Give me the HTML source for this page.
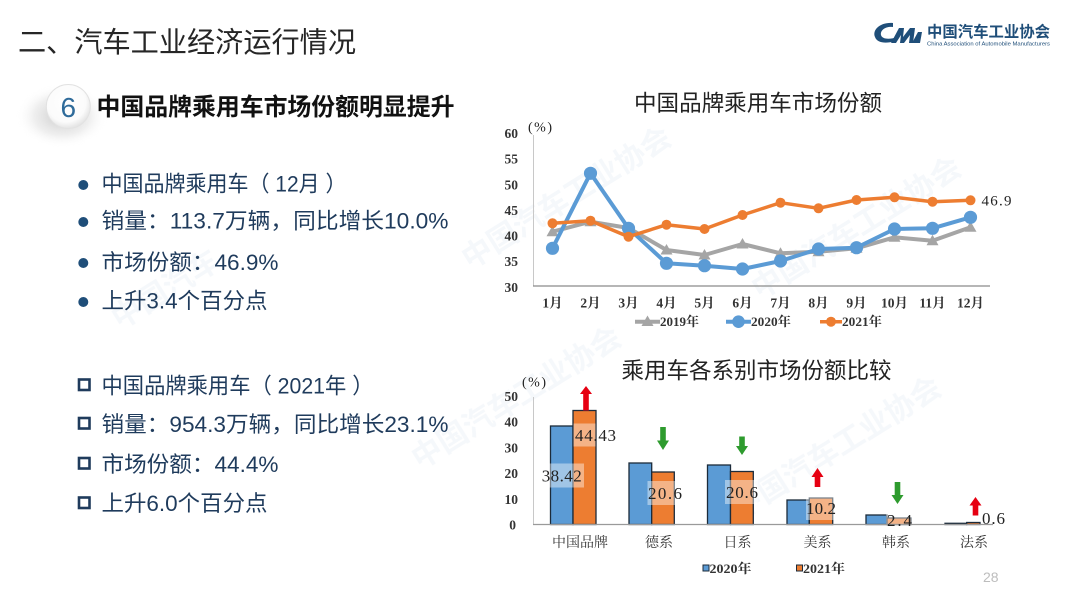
<!DOCTYPE html>
<html>
<head>
<meta charset="utf-8">
<style>
  html,body{margin:0;padding:0;background:#fff;}
  body{width:1080px;height:604px;overflow:hidden;}
  svg{display:block;}
  .cjk{font-family:"Liberation Sans","Noto Sans CJK SC",sans-serif;}
  .ser{font-family:"Liberation Serif","Noto Serif CJK SC",serif;}
</style>
</head>
<body>
<svg width="1080" height="604" viewBox="0 0 1080 604" xmlns="http://www.w3.org/2000/svg">
  <defs>
    <radialGradient id="shadowG" cx="50%" cy="50%" r="50%">
      <stop offset="0%" stop-color="#9a9a9a" stop-opacity="0.55"/>
      <stop offset="60%" stop-color="#bdbdbd" stop-opacity="0.25"/>
      <stop offset="100%" stop-color="#ffffff" stop-opacity="0"/>
    </radialGradient>
    <radialGradient id="badgeG" cx="45%" cy="40%" r="60%">
      <stop offset="0%" stop-color="#ffffff"/>
      <stop offset="75%" stop-color="#fbfbfb"/>
      <stop offset="100%" stop-color="#e4e4e4"/>
    </radialGradient>
    <marker id="mb" viewBox="0 0 14 14" refX="7" refY="7" markerWidth="14" markerHeight="14" markerUnits="userSpaceOnUse">
      <circle cx="7" cy="7" r="6.6" fill="#5b9bd5"/>
    </marker>
    <marker id="mo" viewBox="0 0 12 12" refX="6" refY="6" markerWidth="12" markerHeight="12" markerUnits="userSpaceOnUse">
      <circle cx="6" cy="6" r="5" fill="#ed7d31"/>
    </marker>
    <marker id="mg" viewBox="0 0 13 12" refX="6.5" refY="6.5" markerWidth="13" markerHeight="12" markerUnits="userSpaceOnUse">
      <polygon points="6.5,0.5 12.5,11 0.5,11" fill="#a5a5a5"/>
    </marker>
  </defs>

  <!-- faint watermarks -->
  <g class="cjk" font-size="30" font-weight="bold" fill="#e6edf4" opacity="0.4">
    <text x="470" y="270" transform="rotate(-32 470 270)">中国汽车工业协会</text>
    <text x="760" y="300" transform="rotate(-32 760 300)">中国汽车工业协会</text>
    <text x="740" y="520" transform="rotate(-32 740 520)">中国汽车工业协会</text>
    <text x="420" y="470" transform="rotate(-32 420 470)">中国汽车工业协会</text>
    <text x="120" y="330" transform="rotate(-32 120 330)">中国汽车</text>
  </g>

  <!-- Header -->
  <text x="18" y="52" class="cjk" font-size="28.2" fill="#262626" textLength="338" lengthAdjust="spacingAndGlyphs">二、汽车工业经济运行情况</text>

  <!-- Logo -->
  <g fill="#1f4e79">
    <path d="M893,23 C880,22 872,30 875,37 C877,43 886,44 895,41 L897,37 C889,40 882,39 881,35 C880,30 886,26 893,27 Z"/>
    <path d="M891,43 L899,28 L904,28 L903,37 L910,28 L915,28 L913,43 L909,43 L910,35 L904,43 L900,43 L901,35 L896,43 Z"/>
    <path d="M912,43 L918,32 L922,32 L920,43 Z"/>
  </g>
  <text x="927" y="37" class="cjk" font-size="15.3" font-weight="bold" fill="#1f4e79" textLength="123" lengthAdjust="spacingAndGlyphs">中国汽车工业协会</text>
  <text x="927" y="45.5" font-family="Liberation Sans, sans-serif" font-size="5.2" fill="#1f4e79" textLength="123" lengthAdjust="spacingAndGlyphs">China Association of Automobile Manufacturers</text>

  <!-- Badge -->
  <ellipse cx="62" cy="116" rx="46" ry="32" fill="url(#shadowG)"/>
  <circle cx="68.3" cy="106.5" r="22" fill="url(#badgeG)" stroke="#e2e2e2" stroke-width="1"/>
  <text x="68.3" y="117" text-anchor="middle" font-family="Liberation Sans, sans-serif" font-size="28" fill="#2f6b9a">6</text>

  <text x="96.5" y="115" class="cjk" font-size="24" font-weight="bold" fill="#111" textLength="358" lengthAdjust="spacingAndGlyphs">中国品牌乘用车市场份额明显提升</text>

  <!-- Left bullet list -->
  <g fill="#1f4e79">
    <circle cx="83.3" cy="185" r="5"/>
    <circle cx="83.3" cy="222" r="5"/>
    <circle cx="83.3" cy="263" r="5"/>
    <circle cx="83.3" cy="302" r="5"/>
  </g>
  <g class="cjk" font-size="22" fill="#1f3b5c">
    <text x="101.5" y="191.5" textLength="245" lengthAdjust="spacingAndGlyphs">中国品牌乘用车（ 12月 ）</text>
    <text x="101.5" y="228.5" textLength="347" lengthAdjust="spacingAndGlyphs">销量：113.7万辆，同比增长10.0%</text>
    <text x="101.5" y="270" textLength="177" lengthAdjust="spacingAndGlyphs">市场份额：46.9%</text>
    <text x="101.5" y="308.5" textLength="166" lengthAdjust="spacingAndGlyphs">上升3.4个百分点</text>
  </g>
  <g fill="none" stroke="#1f3b5c" stroke-width="2.6">
    <rect x="79" y="379.5" width="10.5" height="10.5"/>
    <rect x="79" y="418" width="10.5" height="10.5"/>
    <rect x="79" y="458" width="10.5" height="10.5"/>
    <rect x="79" y="497.5" width="10.5" height="10.5"/>
  </g>
  <g class="cjk" font-size="22" fill="#1f3b5c">
    <text x="101.5" y="393.5" textLength="272" lengthAdjust="spacingAndGlyphs">中国品牌乘用车（ 2021年 ）</text>
    <text x="101.5" y="432" textLength="347" lengthAdjust="spacingAndGlyphs">销量：954.3万辆，同比增长23.1%</text>
    <text x="101.5" y="472" textLength="177" lengthAdjust="spacingAndGlyphs">市场份额：44.4%</text>
    <text x="101.5" y="511" textLength="166" lengthAdjust="spacingAndGlyphs">上升6.0个百分点</text>
  </g>

  <!-- ===== Line chart ===== -->
  <text x="634" y="111" class="cjk" font-size="22.5" fill="#222" textLength="248" lengthAdjust="spacingAndGlyphs">中国品牌乘用车市场份额</text>
  <text x="528" y="131.5" font-family="Liberation Serif, serif" font-size="14" fill="#222" textLength="24" lengthAdjust="spacing">(%)</text>
  <g class="ser" font-size="13.5" font-weight="bold" fill="#333" text-anchor="end">
    <text x="518" y="138">60</text>
    <text x="518" y="163.6">55</text>
    <text x="518" y="189.3">50</text>
    <text x="518" y="214.9">45</text>
    <text x="518" y="240.6">40</text>
    <text x="518" y="266.2">35</text>
    <text x="518" y="291.9">30</text>
  </g>
  <line x1="533.5" y1="135" x2="533.5" y2="286" stroke="#c8c8c8" stroke-width="1"/>
  <line x1="533" y1="286" x2="990" y2="286" stroke="#8a8a8a" stroke-width="1.2"/>
  <g class="ser" font-size="13.5" font-weight="bold" fill="#333" text-anchor="middle">
    <text x="552.5" y="307.5">1月</text>
    <text x="590.5" y="307.5">2月</text>
    <text x="628.5" y="307.5">3月</text>
    <text x="666.5" y="307.5">4月</text>
    <text x="704.5" y="307.5">5月</text>
    <text x="742.5" y="307.5">6月</text>
    <text x="780.5" y="307.5">7月</text>
    <text x="818.5" y="307.5">8月</text>
    <text x="856.5" y="307.5">9月</text>
    <text x="894.5" y="307.5">10月</text>
    <text x="932.5" y="307.5">11月</text>
    <text x="970.5" y="307.5">12月</text>
  </g>

  <polyline fill="none" stroke="#a5a5a5" stroke-width="4" stroke-linejoin="round"
    marker-start="url(#mg)" marker-mid="url(#mg)" marker-end="url(#mg)"
    points="552.5,231.7 590.5,221.7 628.5,228 666.5,250 704.5,255 742.5,244 780.5,253.3 818.5,251.7 856.5,248.3 894.5,237.3 932.5,240.7 970.5,227.3"/>
  <polyline fill="none" stroke="#5b9bd5" stroke-width="4" stroke-linejoin="round"
    marker-start="url(#mb)" marker-mid="url(#mb)" marker-end="url(#mb)"
    points="552.5,248.3 590.5,173.3 628.5,228.3 666.5,263.3 704.5,265.7 742.5,269 780.5,261 818.5,249 856.5,247.7 894.5,229 932.5,228.3 970.5,217.3"/>
  <polyline fill="none" stroke="#ed7d31" stroke-width="3.5" stroke-linejoin="round"
    marker-start="url(#mo)" marker-mid="url(#mo)" marker-end="url(#mo)"
    points="552.5,223.3 590.5,220.7 628.5,236.7 666.5,224.7 704.5,229 742.5,215 780.5,202.7 818.5,208.3 856.5,200 894.5,197.3 932.5,201.7 970.5,200.3"/>
  <text x="981.5" y="205.5" class="ser" font-size="15" fill="#222" textLength="30" lengthAdjust="spacing">46.9</text>

  <!-- line legend -->
  <line x1="635" y1="321.7" x2="660" y2="321.7" stroke="#a5a5a5" stroke-width="4"/>
  <polygon points="647.5,315.5 653.5,326 641.5,326" fill="#a5a5a5"/>
  <text x="660" y="326.2" class="ser" font-size="13" font-weight="bold" fill="#333" textLength="39" lengthAdjust="spacingAndGlyphs">2019年</text>
  <line x1="726" y1="321.7" x2="751" y2="321.7" stroke="#5b9bd5" stroke-width="4"/>
  <circle cx="738.5" cy="321.7" r="6.3" fill="#5b9bd5"/>
  <text x="751" y="326.2" class="ser" font-size="13" font-weight="bold" fill="#333" textLength="40" lengthAdjust="spacingAndGlyphs">2020年</text>
  <line x1="820" y1="321.7" x2="842" y2="321.7" stroke="#ed7d31" stroke-width="3.5"/>
  <circle cx="831" cy="321.7" r="5" fill="#ed7d31"/>
  <text x="842" y="326.2" class="ser" font-size="13" font-weight="bold" fill="#333" textLength="40" lengthAdjust="spacingAndGlyphs">2021年</text>

  <!-- ===== Bar chart ===== -->
  <text x="621.5" y="378.5" class="cjk" font-size="22.5" fill="#222" textLength="270" lengthAdjust="spacingAndGlyphs">乘用车各系别市场份额比较</text>
  <text x="522" y="386.5" font-family="Liberation Serif, serif" font-size="14" fill="#222" textLength="24" lengthAdjust="spacing">(%)</text>
  <g class="ser" font-size="13.5" font-weight="bold" fill="#333" text-anchor="end">
    <text x="518" y="401">50</text>
    <text x="518" y="426.7">40</text>
    <text x="518" y="452.4">30</text>
    <text x="518" y="478.1">20</text>
    <text x="518" y="503.8">10</text>
    <text x="516" y="529.5">0</text>
  </g>
  <line x1="533.5" y1="397" x2="533.5" y2="524.5" stroke="#c8c8c8" stroke-width="1"/>

  <g stroke="#1c2b3a" stroke-width="1.3">
    <rect x="550.5" y="426" width="22.5" height="98.5" fill="#5b9bd5"/>
    <rect x="573" y="410.5" width="23" height="114" fill="#ed7d31"/>
    <rect x="629" y="463" width="22.7" height="61.5" fill="#5b9bd5"/>
    <rect x="651.7" y="472" width="22.6" height="52.5" fill="#ed7d31"/>
    <rect x="707.5" y="465" width="23" height="59.5" fill="#5b9bd5"/>
    <rect x="730.5" y="471.5" width="22.8" height="53" fill="#ed7d31"/>
    <rect x="787" y="500" width="22.3" height="24.5" fill="#5b9bd5"/>
    <rect x="809.3" y="498" width="23.4" height="26.5" fill="#ed7d31"/>
    <rect x="866" y="515" width="21" height="9.5" fill="#5b9bd5"/>
    <rect x="887" y="518" width="24" height="6.5" fill="#ed7d31"/>
    <rect x="945" y="523.3" width="21.7" height="1.2" fill="#5b9bd5"/>
    <rect x="966.7" y="522.5" width="13.3" height="2" fill="#ed7d31"/>
  </g>
  <line x1="533" y1="524.5" x2="993" y2="524.5" stroke="#9a9a9a" stroke-width="1.2"/>

  <!-- label boxes -->
  <g fill="#ffffff" opacity="0.42">
    <rect x="573.5" y="423.5" width="22" height="23"/>
    <rect x="542" y="463.5" width="42" height="24"/>
    <rect x="647.5" y="481" width="33" height="24"/>
    <rect x="725" y="480" width="33" height="24"/>
    <rect x="806" y="497" width="29" height="23"/>
    <rect x="886" y="512" width="26" height="12"/>
  </g>
  <g class="ser" font-size="17" fill="#222">
    <text x="575" y="441" textLength="41" lengthAdjust="spacing">44.43</text>
    <text x="541.7" y="481.5" textLength="40" lengthAdjust="spacing">38.42</text>
    <text x="648" y="499" textLength="34" lengthAdjust="spacing">20.6</text>
    <text x="726" y="498" textLength="32" lengthAdjust="spacing">20.6</text>
    <text x="806" y="514" textLength="30" lengthAdjust="spacing">10.2</text>
    <text x="887" y="526" textLength="25" lengthAdjust="spacing">2.4</text>
    <text x="982" y="524" textLength="23" lengthAdjust="spacing">0.6</text>
  </g>

  <!-- arrows -->
  <g fill="#e60012">
    <polygon points="586,386 592,394 588.8,394 588.8,410.5 583.2,410.5 583.2,394 580,394"/>
    <polygon points="817.5,468 823.5,477 820.3,477 820.3,487 814.7,487 814.7,477 811.5,477"/>
    <polygon points="975.5,497 981.5,505.5 978.3,505.5 978.3,515.5 972.7,515.5 972.7,505.5 969.5,505.5"/>
  </g>
  <g fill="#2e9b2e">
    <polygon points="660.2,427 665.8,427 665.8,440.5 669,440.5 663,450 657,440.5 660.2,440.5"/>
    <polygon points="739.2,436.5 744.8,436.5 744.8,446 748,446 742,455 736,446 739.2,446"/>
    <polygon points="894.7,482 900.3,482 900.3,495 903.5,495 897.5,504 891.5,495 894.7,495"/>
  </g>

  <g class="ser" font-size="14" fill="#333" text-anchor="middle">
    <text x="580" y="547">中国品牌</text>
    <text x="659" y="547">德系</text>
    <text x="737.5" y="547">日系</text>
    <text x="817.5" y="547">美系</text>
    <text x="896" y="547">韩系</text>
    <text x="974" y="547">法系</text>
  </g>

  <!-- bar legend -->
  <rect x="703" y="565" width="6" height="6" fill="#5b9bd5" stroke="#1c2b3a" stroke-width="1"/>
  <text x="709.5" y="573" class="ser" font-size="13" font-weight="bold" fill="#333" textLength="42" lengthAdjust="spacingAndGlyphs">2020年</text>
  <rect x="796.5" y="565" width="6" height="6" fill="#ed7d31" stroke="#1c2b3a" stroke-width="1"/>
  <text x="803" y="573" class="ser" font-size="13" font-weight="bold" fill="#333" textLength="42" lengthAdjust="spacingAndGlyphs">2021年</text>

  <text x="983" y="582" font-family="Liberation Sans, sans-serif" font-size="14" fill="#bdbdbd">28</text>
</svg>
</body>
</html>
